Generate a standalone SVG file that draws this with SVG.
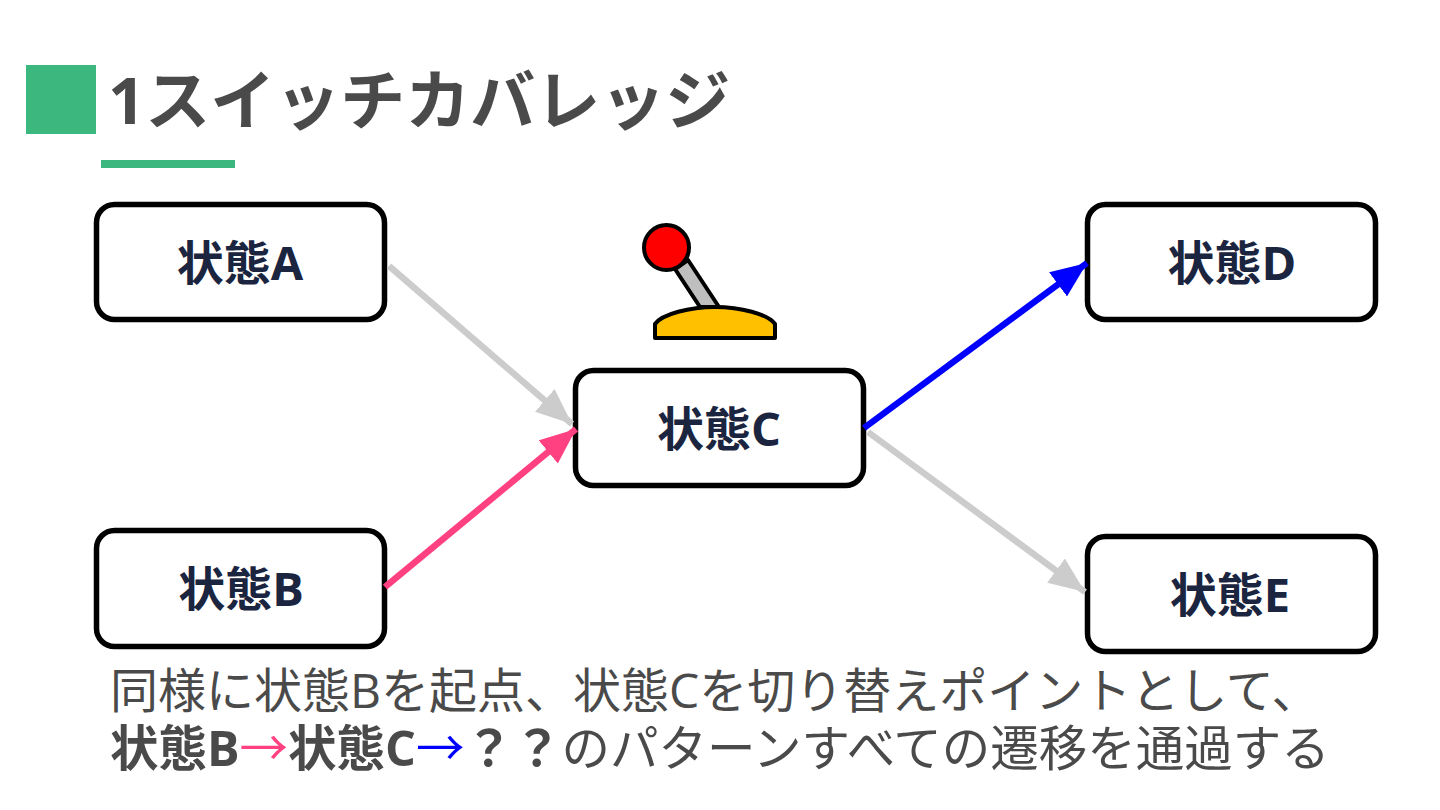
<svg xmlns="http://www.w3.org/2000/svg" width="1440" height="810" viewBox="0 0 1440 810">
<style>
.t{font-family:"Open Sans","Noto Sans CJK JP",sans-serif}
.box{fill:#fff;stroke:#000;stroke-width:5.500}
.lbl{font-family:"Open Sans","Noto Sans CJK JP",sans-serif;font-size:47px;font-weight:700;fill:#1b2540;text-anchor:middle}
.body{font-size:48px;fill:#4a4a4a}
.c{fill:none;stroke-width:6.500}
</style>
<defs>
<marker id="g" markerUnits="userSpaceOnUse" markerWidth="38" markerHeight="30" refX="36" refY="15" orient="auto"><path d="M0 0L36 15L0 30Z" fill="#cccccc"/></marker>
<marker id="p" markerUnits="userSpaceOnUse" markerWidth="38" markerHeight="30" refX="36" refY="15" orient="auto"><path d="M0 0L36 15L0 30Z" fill="#ff4081"/></marker>
<marker id="b" markerUnits="userSpaceOnUse" markerWidth="38" markerHeight="30" refX="36" refY="15" orient="auto"><path d="M0 0L36 15L0 30Z" fill="#0000ff"/></marker>
</defs>
<rect width="1440" height="810" fill="#fff"/>
<g id="title">
<rect x="26" y="65" width="70" height="69" fill="#3cb87f"/>
<rect x="101" y="160" width="134" height="8" fill="#3cb87f"/>
<text class="t" x="108" y="124" font-size="65" font-weight="700" fill="#4a4a4a">1スイッチカバレッジ</text>
</g>
<g id="nodeA"><rect class="box" x="96.500" y="204.500" width="288" height="115" rx="18"/><text class="lbl" x="240" y="280">状態A</text></g>
<g id="nodeB"><rect class="box" x="96.500" y="530.500" width="288" height="116" rx="18"/><text class="lbl" x="241" y="606">状態B</text></g>
<g id="nodeC"><rect class="box" x="575.500" y="370.500" width="288" height="115" rx="18"/><text class="lbl" x="719" y="446">状態C</text></g>
<g id="nodeD"><rect class="box" x="1087.500" y="204.500" width="288" height="115" rx="18"/><text class="lbl" x="1232" y="280">状態D</text></g>
<g id="nodeE"><rect class="box" x="1087.500" y="536.500" width="288" height="115" rx="18"/><text class="lbl" x="1230" y="612">状態E</text></g>
<g id="connectors">
<line class="c" x1="389" y1="266" x2="572" y2="424" stroke="#cccccc" marker-end="url(#g)"/>
<line class="c" x1="385" y1="587" x2="576" y2="429" stroke="#ff4081" marker-end="url(#p)"/>
<line class="c" x1="864" y1="428" x2="1087" y2="263" stroke="#0000ff" marker-end="url(#b)"/>
<line class="c" x1="868" y1="432" x2="1085" y2="592" stroke="#cccccc" marker-end="url(#g)"/>
</g>
<g id="lever" stroke="#000" stroke-width="4" stroke-linejoin="round">
<path d="M675 269L688 260L719 307L700 307Z" fill="#bfbfbf"/>
<path d="M655 338V324C662 314 690 307 715 307C740 307 768 314 775 324V338Z" fill="#ffc000"/>
<circle cx="666.500" cy="247.500" r="22.500" fill="#ff0000"/>
</g>
<g id="caption">
<text class="t body" x="110" y="708">同様に状態Bを起点、状態Cを切り替えポイントとして、</text>
<text class="t body" x="110" y="766" style="font-size:48.500px"><tspan font-weight="700">状態B</tspan><tspan fill="#ff4081">→</tspan><tspan font-weight="700">状態C</tspan><tspan fill="#0000ff">→</tspan><tspan font-weight="700">？？</tspan>のパターンすべての遷移を通過する</text>
</g>
</svg>
